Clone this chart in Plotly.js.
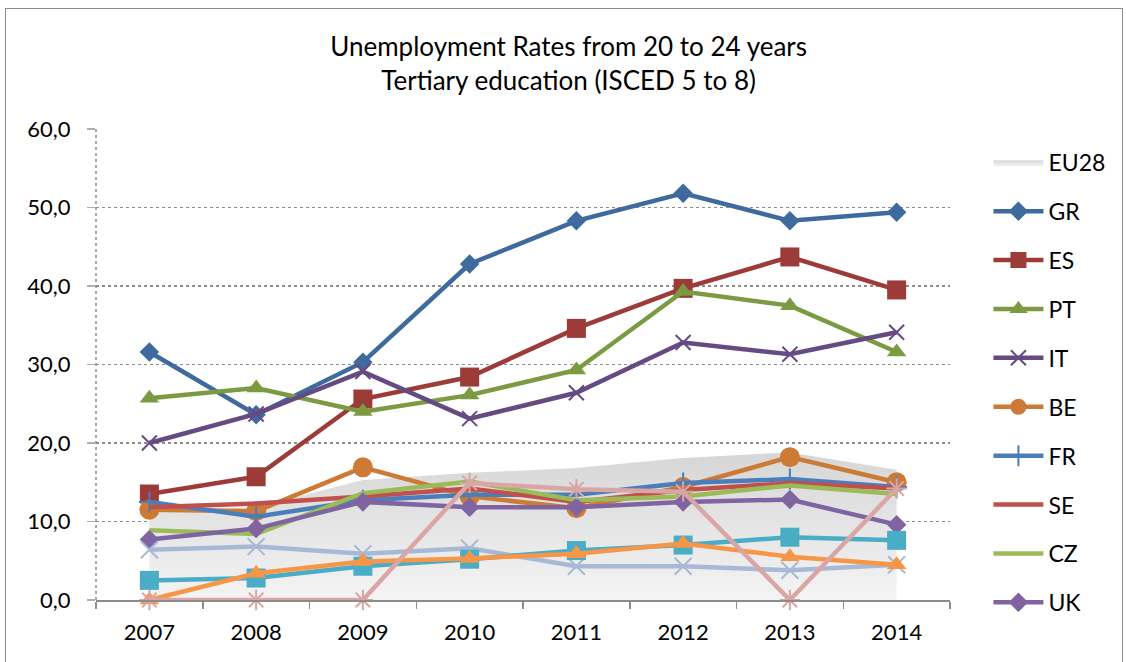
<!DOCTYPE html>
<html>
<head>
<meta charset="utf-8">
<script src="https://cdn.plot.ly/plotly-3.0.1.min.js"></script>
<style>
  html, body { margin: 0; padding: 0; background: #fff; overflow: hidden; }
  #chart { width: 1126px; height: 662px; }
  #frame { position: absolute; left: 5px; top: 8px; width: 1116px; height: 700px;
           border: 1.5px solid #8c8c8c; pointer-events: none; }
</style>
</head>
<body>
<div id="chart"></div>
<div id="frame"></div>
<script>
// ---- data ----
const years = ["2007", "2008", "2009", "2010", "2011", "2012", "2013", "2014"];
const EU28 = [11.6, 11.8, 15.3, 16.2, 16.8, 18.1, 18.8, 16.6];
const GR = [31.6, 23.6, 30.3, 42.8, 48.3, 51.8, 48.3, 49.4];
const ES = [13.5, 15.7, 25.6, 28.4, 34.6, 39.7, 43.7, 39.5];
const PT = [25.7, 27.0, 24.0, 26.1, 29.3, 39.3, 37.5, 31.6];
const IT = [20.0, 23.7, 29.1, 23.1, 26.4, 32.8, 31.3, 34.1];
const BE = [11.5, 11.3, 16.9, 13.2, 11.7, 14.4, 18.2, 15.0];
const FR = [12.5, 10.6, 12.7, 13.4, 13.4, 14.9, 15.4, 14.4];
const SE = [11.8, 12.3, 13.2, 14.2, 12.5, 14.0, 14.9, 14.2];
const CZ = [8.9, 8.4, 13.6, 15.1, 12.7, 13.2, 14.6, 13.5];
const UK = [7.7, 9.1, 12.5, 11.8, 11.8, 12.5, 12.8, 9.6];
const S11 = [6.4, 6.8, 5.9, 6.6, 4.3, 4.3, 3.8, 4.5];
const S12 = [2.5, 2.8, 4.3, 5.2, 6.3, 7.0, 8.0, 7.6];
const S13 = [0.0, 3.4, 4.9, 5.3, 5.9, 7.2, 5.5, 4.5];
const S14 = [0.0, 0.0, 0.0, 14.9, 14.1, 13.8, 0.0, 14.2];
const yTicks = [0, 10, 20, 30, 40, 50, 60];

// ---- traces ----
let g = 0;
function line(name, y, color, symbol, size, opts) {
  opts = opts || {};
  g++;
  const t = {
    type: 'scatter', mode: symbol ? 'lines+markers' : 'lines',
    name: name, x: years, y: y, legendgroup: 'g' + g,
    showlegend: opts.showlegend !== false,
    line: { color: color, width: 4.5 },
    cliponaxis: false
  };
  if (symbol) {
    t.marker = { symbol: symbol, size: size, color: color };
    if (opts.open) t.marker.line = { color: color, width: 2 };
  }
  return t;
}

const traces = [
  {
    type: 'scatter', mode: 'lines', name: 'EU28', x: years, y: EU28,
    fill: 'tozeroy', legendgroup: 'g0',
    line: { width: 0, color: 'rgba(0,0,0,0)' },
    fillcolor: '#e4e4e4',
    fillgradient: { type: 'vertical', colorscale: [[0, '#f4f4f4'], [1, '#d6d6d6']] }
  },
  line('GR', GR, '#3f6a9e', 'diamond', 15),
  line('ES', ES, '#9c3b38', 'square', 19),
  line('PT', PT, '#7b9a42', 'triangle-up', 17),
  line('IT', IT, '#654a83', 'x-thin', 15, { open: true }),
  line('BE', BE, '#cc7a35', 'circle', 20),
  line('FR', FR, '#4a7ebb', 'cross-thin', 15, { open: true }),
  line('SE', SE, '#c0504d', null, 0),
  line('CZ', CZ, '#9bbb59', null, 0),
  line('UK', UK, '#8064a2', 'diamond', 15),
  line('Series 11', S11, '#a7b9d6', 'x-thin', 17, { open: true, showlegend: false }),
  line('Series 12', S12, '#4bacc6', 'square', 19, { showlegend: false }),
  line('Series 13', S13, '#f79646', 'triangle-up', 17, { showlegend: false }),
  line('Series 14', S14, '#d9a6a5', 'asterisk-open', 17, { open: true, showlegend: false })
];

const layout = {
  width: 1126, height: 662,
  margin: { l: 96, r: 176, t: 129, b: 62 },
  paper_bgcolor: 'rgba(0,0,0,0)', plot_bgcolor: 'rgba(0,0,0,0)',
  separators: ', ',
  font: { family: 'Lato, "Open Sans", sans-serif', size: 22, color: '#000' },
  title: {
    text: 'Unemployment Rates from 20 to 24 years<br>Tertiary education (ISCED 5 to 8)',
    font: { size: 26, color: '#000' }, x: 0.505, xanchor: 'center', y: 0.915, yanchor: 'top'
  },
  xaxis: {
    type: 'category', range: [-0.5, 7.5], fixedrange: true,
    showline: true, linecolor: '#8c8c8c', linewidth: 1.5,
    ticks: 'outside', tickson: 'boundaries', ticklen: 7, tickcolor: '#8c8c8c', tickwidth: 1.5,
    showgrid: false, zeroline: false, tickfont: { size: 22 }, ticklabelstandoff: 12
  },
  yaxis: {
    range: [0, 60], tickvals: yTicks, tickformat: '.1f', fixedrange: true,
    showline: false, zeroline: false,
    showgrid: true, gridcolor: '#8c8c8c', gridwidth: 1.5, griddash: 'dot',
    ticks: 'outside', ticklen: 8, tickcolor: '#b0b0b0', tickwidth: 1.5,
    ticklabelstandoff: 12, tickfont: { size: 22 }
  },
  shapes: [
    { type: 'line', xref: 'paper', yref: 'y', x0: 0, x1: 0, y0: 0, y1: 60,
      line: { color: '#8c8c8c', width: 1.5, dash: 'dot' }, layer: 'below' }
  ],
  legend: {
    x: 1.045, xanchor: 'left', y: 0.975, yanchor: 'top',
    font: { size: 23 }, tracegroupgap: 16, itemwidth: 50, maxheight: 1,
    bgcolor: 'rgba(0,0,0,0)'
  },
  showlegend: true
};

Plotly.newPlot('chart', traces, layout, { displayModeBar: false, staticPlot: true });
</script>
</body>
</html>
